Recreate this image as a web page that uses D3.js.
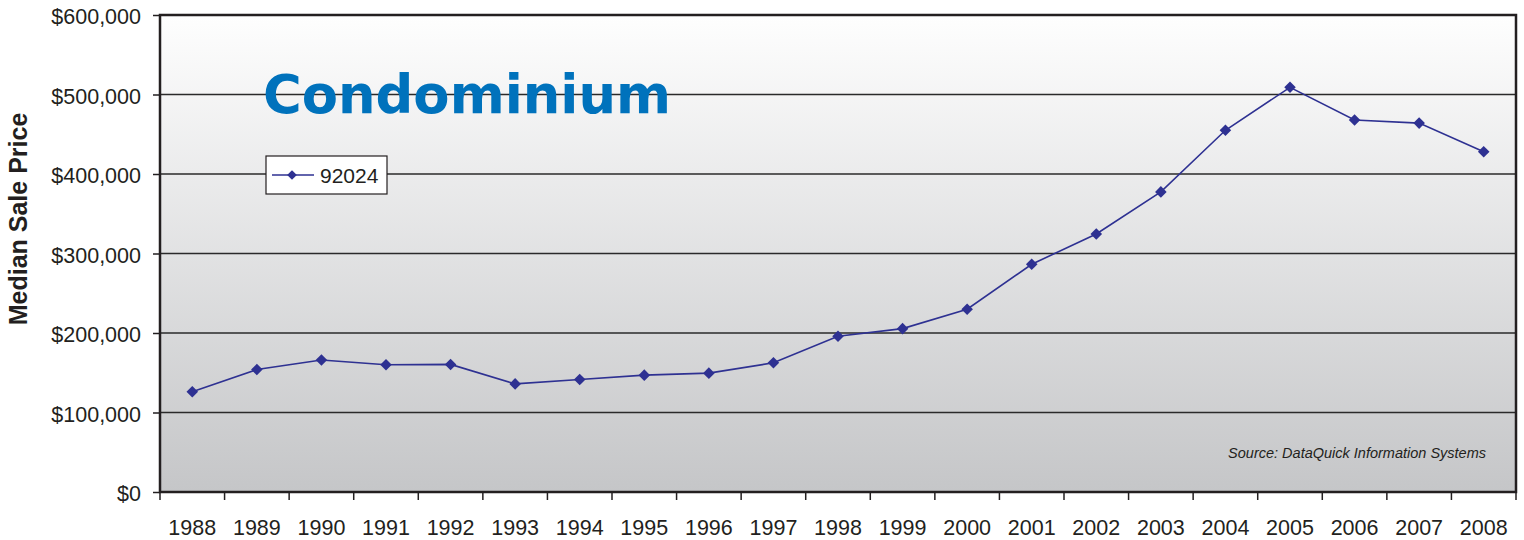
<!DOCTYPE html>
<html><head><meta charset="utf-8">
<script src="https://cdn.jsdelivr.net/npm/d3@7"></script>
<style>body{margin:0;background:#fff}svg{display:block}</style>
</head><body><svg id="c" width="1524" height="540"></svg>
<script>
const years = ["1988","1989","1990","1991","1992","1993","1994","1995","1996","1997","1998","1999","2000","2001","2002","2003","2004","2005","2006","2007","2008"];
const prices = [126000,154000,166000,160000,160500,136000,141500,147000,149500,162500,196000,205500,230000,286500,324500,377500,455000,509000,468000,464000,428000];
const yTicks = [0,100000,200000,300000,400000,500000,600000];
const seriesName = "92024";
const titleText = "Condominium";
const yTitle = "Median Sale Price";
const sourceText = "Source: DataQuick Information Systems";

const svg = d3.select("#c");
const L=160,R=1516,T=15,B=492;
const x = d3.scaleBand().domain(years).range([L,R]);
const y = d3.scaleLinear().domain([0,600000]).range([B,T]);
const FONT = "Liberation Sans, Arial, sans-serif";

const defs = svg.append("defs");
const g = defs.append("linearGradient").attr("id","bg").attr("x1",0).attr("y1",0).attr("x2",0).attr("y2",1);
g.append("stop").attr("offset","0%").attr("stop-color","#fefefe");
g.append("stop").attr("offset","100%").attr("stop-color","#c5c6c8");
svg.append("rect").attr("x",L).attr("y",T).attr("width",R-L).attr("height",B-T).attr("fill","url(#bg)");

// gridlines
svg.append("g").selectAll("line").data(yTicks.filter(d=>d>0&&d<600000)).join("line")
  .attr("x1",L).attr("x2",R).attr("y1",d=>y(d)).attr("y2",d=>y(d))
  .attr("stroke","#2a2a2a").attr("stroke-width",1.3);

// y axis
const yAx = svg.append("g").attr("transform",`translate(${L},0)`)
  .call(d3.axisLeft(y).tickValues(yTicks).tickSize(7).tickPadding(12).tickFormat(d=>"$"+d3.format(",")(d)));
yAx.select(".domain").remove();
yAx.selectAll("line").attr("stroke","#231f20").attr("stroke-width",1.5);
yAx.selectAll("text").attr("font-family",FONT).attr("font-size",21.5).attr("fill","#231f20").attr("dy","0.4em");

// x axis ticks at boundaries
const xb = d3.scaleLinear().domain([0,years.length]).range([L,R]);
svg.append("g").selectAll("line").data(d3.range(0,years.length+1)).join("line")
  .attr("x1",d=>xb(d)).attr("x2",d=>xb(d)).attr("y1",B).attr("y2",B+8)
  .attr("stroke","#231f20").attr("stroke-width",1.5);
const xAx = svg.append("g").attr("transform",`translate(0,${B})`)
  .call(d3.axisBottom(x).tickSize(0).tickPadding(28));
xAx.select(".domain").remove();
xAx.selectAll("text").attr("font-family",FONT).attr("font-size",21.5).attr("fill","#231f20");

// frame
svg.append("rect").attr("x",L).attr("y",T).attr("width",R-L).attr("height",B-T)
  .attr("fill","none").attr("stroke","#231f20").attr("stroke-width",2.5);

// y title
svg.append("text").attr("transform",`translate(27,219) rotate(-90)`)
  .attr("text-anchor","middle").attr("font-family",FONT)
  .attr("font-weight","bold").attr("font-size",25).attr("fill","#231f20").text(yTitle);

// line
const cx = d=>x(d)+x.bandwidth()/2;
svg.append("path").datum(years.map((d,i)=>[cx(d),y(prices[i])]))
  .attr("d",d3.line()).attr("fill","none").attr("stroke","#2e3192").attr("stroke-width",1.6);
const diamond = d3.symbol().type(d3.symbolDiamond2).size(85);
svg.append("g").selectAll("path").data(years).join("path")
  .attr("transform",(d,i)=>`translate(${cx(d)},${y(prices[i])})`)
  .attr("d",diamond).attr("fill","#2e3192");

// title
svg.append("text").attr("x",263).attr("y",113).attr("font-family","DejaVu Sans, Verdana, sans-serif")
  .attr("font-weight","bold").attr("font-size",53).attr("fill","#0072bc")
  .attr("textLength",408).attr("lengthAdjust","spacingAndGlyphs").text(titleText);

// legend
const lg = svg.append("g");
lg.append("rect").attr("x",266).attr("y",156).attr("width",121).attr("height",38)
  .attr("fill","#fff").attr("stroke","#231f20").attr("stroke-width",1.2);
lg.append("line").attr("x1",272).attr("x2",314).attr("y1",175).attr("y2",175).attr("stroke","#2e3192").attr("stroke-width",1.6);
lg.append("path").attr("transform","translate(292,175)").attr("d",d3.symbol().type(d3.symbolDiamond2).size(60)).attr("fill","#2e3192");
lg.append("text").attr("x",320).attr("y",183).attr("font-family",FONT)
  .attr("font-size",21).attr("fill","#231f20").text(seriesName);

// source
svg.append("text").attr("x",1486).attr("y",458).attr("text-anchor","end")
  .attr("font-family",FONT).attr("font-style","italic")
  .attr("font-size",14.5).attr("fill","#231f20").text(sourceText);
</script></body></html>
